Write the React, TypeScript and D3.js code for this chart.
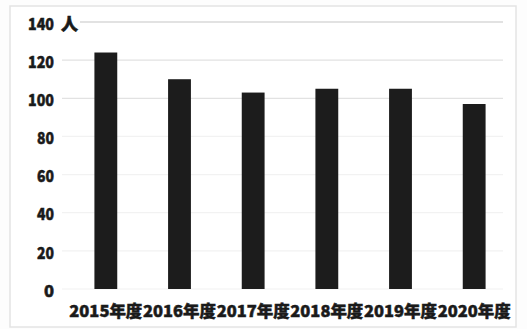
import React from "react";
import * as d3 from "d3";

const categories = ["2015年度", "2016年度", "2017年度", "2018年度", "2019年度", "2020年度"];
const values = [124, 110, 103, 105, 105, 97];
const yTicks = [0, 20, 40, 60, 80, 100, 120, 140];
const unitLabel = "人";

export default function App() {
  const W = 527, H = 329;
  const x = d3.scaleBand<string>().domain(categories).range([69, 511]).paddingInner(0.69).paddingOuter(0.345);
  const y = d3.scaleLinear().domain([0, 140]).range([289, 22]);
  const font = "'Noto Sans CJK JP', 'Noto Sans', sans-serif";
  const thick = { stroke: "#1a1a1a", strokeWidth: 0.5 };
  return (
    <svg width={W} height={H} style={{ position: "absolute", left: 0, top: 0, background: "#fdfdfd" }}>
      <rect x={0} y={0} width={W} height={H} fill="#fdfdfd" />
      <rect x={10} y={6} width={506} height={321} fill="#ffffff" stroke="#e4e4e4" strokeWidth={1.5} />
      {yTicks.map((t) => (
        <line key={"g" + t} x1={t === 140 ? 80 : 62} x2={503} y1={y(t)} y2={y(t)}
          stroke={t >= 100 ? "#e2e2e2" : "#f2f2f2"} strokeWidth={t === 140 ? 2 : 1.2} />
      ))}
      {categories.map((c, i) => (
        <rect key={c} x={x(c)} y={y(values[i])} width={x.bandwidth()} height={y(0) - y(values[i])} fill="#1c1c1c" />
      ))}
      {yTicks.map((t) => (
        <text key={"t" + t} x={54} y={y(t) + 2} dy="0.35em" textAnchor="end" fontFamily={font}
          fontWeight={900} fontSize={16.5} fill="#1a1a1a" {...thick} textLength={t === 0 ? undefined : t >= 100 ? 26 : 17}
          lengthAdjust="spacingAndGlyphs">{t}</text>
      ))}
      <text x={61} y={y(140) + 2} dy="0.35em" fontFamily={font} fontWeight={900} fontSize={17} fill="#1a1a1a" {...thick}>{unitLabel}</text>
      {categories.map((c) => (
        <text key={"x" + c} x={(x(c) as number) + x.bandwidth() / 2} y={311} dy="0.35em" textAnchor="middle"
          fontFamily={font} fontWeight={900} fontSize={16} fill="#1a1a1a" {...thick} textLength={73}
          lengthAdjust="spacingAndGlyphs">{c}</text>
      ))}
    </svg>
  );
}
